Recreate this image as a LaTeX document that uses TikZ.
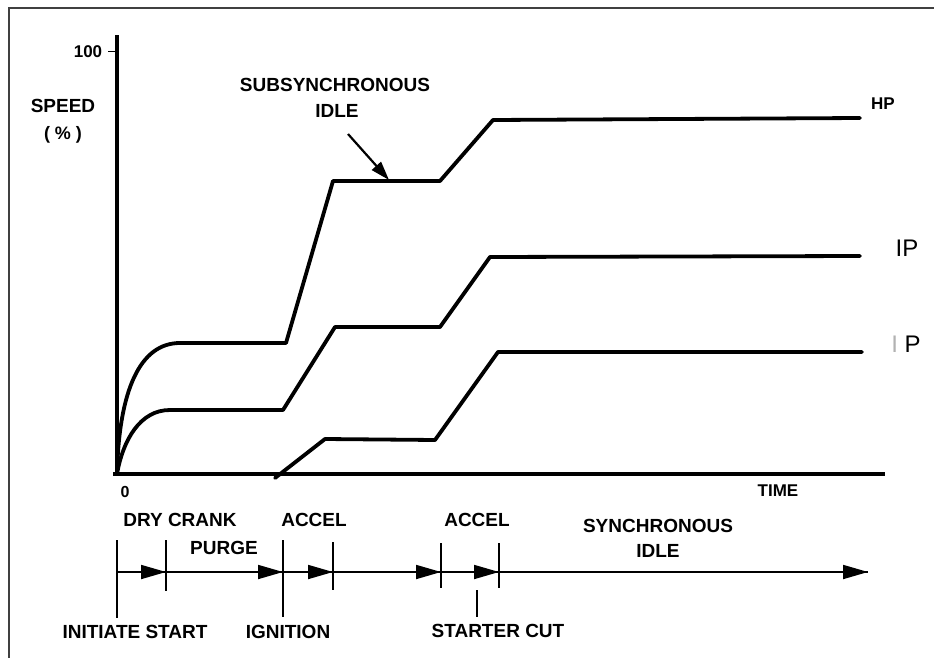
\documentclass[tikz,border=0pt]{standalone}
\usepackage{fontspec}
\setmainfont{Liberation Sans}
\usetikzlibrary{arrows.meta}
\tikzset{
  lbl/.style={font=\fontsize{19}{21}\selectfont\bfseries, inner sep=0pt},
  curve/.style={line width=3.8pt, line join=round, line cap=round},
  axis/.style={line width=3.8pt},
  phase/.style={line width=1.8pt},
  tick/.style={line width=1.6pt},
  tip/.style={-{Triangle[length=25pt,width=14pt]}, line width=1.8pt},
  frame/.style={line width=1.6pt, draw=black!75}
}
\begin{document}
\begin{tikzpicture}[x=1pt,y=-1pt]
\useasboundingbox (0,0) rectangle (934,658);
\fill[white] (0,0) rectangle (934,658);

% outer frame (top and left edges)
\draw[frame] (9,658) -- (9,8) -- (934,8);

% axes
\coordinate (O) at (117,474);
\coordinate (ytop) at (117,35);
\coordinate (xend) at (885,474);
\draw[axis] (O) -- (ytop);
\draw[axis] (113,474) -- (xend);
\draw[line width=1pt] (108,52) -- (117,52);
\node[lbl, font=\fontsize{17}{19}\selectfont\bfseries] (hundred) at (88,52) {100};
\node[lbl] (speed) at (63,106) {SPEED};
\node[lbl, font=\fontsize{18}{20}\selectfont\bfseries] (pct) at (63,135) {( \% )};
\node[lbl, font=\fontsize{16}{18}\selectfont\bfseries] (zero) at (125,492) {0};
\node[lbl, font=\fontsize{17}{19}\selectfont\bfseries] (time) at (778,491) {TIME};

% HP spool speed
\draw[curve] (O) .. controls (119,390) and (140,343) .. (180,343)
  -- (286,343) -- (333,181) -- (440,181) -- (493,120) -- (860,118);
% IP spool speed
\draw[curve] (O) .. controls (123,440) and (140,410) .. (170,410)
  -- (283,410) -- (335,327) -- (440,327) -- (490,257) -- (860,256);
% LP spool speed
\draw[curve] (275,478) -- (325,439) -- (435,440) -- (498,352) -- (862,352);

% curve labels
\node[lbl, font=\fontsize{17}{19}\selectfont\bfseries] (hp) at (883,104) {HP};
\node[inner sep=0pt, font=\fontsize{24}{26}\selectfont] (ip) at (907,248) {IP};
\node[inner sep=0pt, font=\fontsize{24}{26}\selectfont] (lp) at (906,344) {\textcolor{black!30}{I} P};

% subsynchronous idle callout
\node[lbl] (subsync) at (335,85) {SUBSYNCHRONOUS};
\node[lbl] (subidle) at (337,111) {IDLE};
\coordinate (callfrom) at (348,134);
\coordinate (callto) at (389,180);
\draw[-{Triangle[length=19pt,width=12pt]}, line width=2.2pt] (callfrom) -- (callto);

% start sequence timeline
\coordinate (t0) at (117,572);
\coordinate (t1) at (166,572);
\coordinate (t2) at (283,572);
\coordinate (t3) at (333,572);
\coordinate (t4) at (441,572);
\coordinate (t5) at (499,572);
\coordinate (tend) at (868,572);
\draw[phase] (t0) -- (tend);
\draw[tip] (130,572) -- (t1);
\draw[tip] (200,572) -- (t2);
\draw[tip] (300,572) -- (t3);
\draw[tip] (360,572) -- (t4);
\draw[tip] (470,572) -- (t5);
\draw[tip] (700,572) -- (tend);

% phase boundaries
\draw[tick] (117,540) -- (117,618);
\draw[tick] (166,540) -- (166,591);
\draw[tick] (283,540) -- (283,617);
\draw[tick] (333,542) -- (333,590);
\draw[tick] (441,543) -- (441,588);
\draw[tick] (499,543) -- (499,588);
\draw[tick] (477,590) -- (477,617);

% phase labels
\node[lbl] (dry) at (180,520) {DRY CRANK};
\node[lbl] (purge) at (224,548) {PURGE};
\node[lbl] (accel1) at (314,520) {ACCEL};
\node[lbl] (accel2) at (477,520) {ACCEL};
\node[lbl] (sync) at (658,526) {SYNCHRONOUS};
\node[lbl] (syncidle) at (658,551) {IDLE};
\node[lbl] (init) at (135,632) {INITIATE START};
\node[lbl] (ign) at (288,632) {IGNITION};
\node[lbl] (cut) at (498,631) {STARTER CUT};
\end{tikzpicture}
\end{document}
